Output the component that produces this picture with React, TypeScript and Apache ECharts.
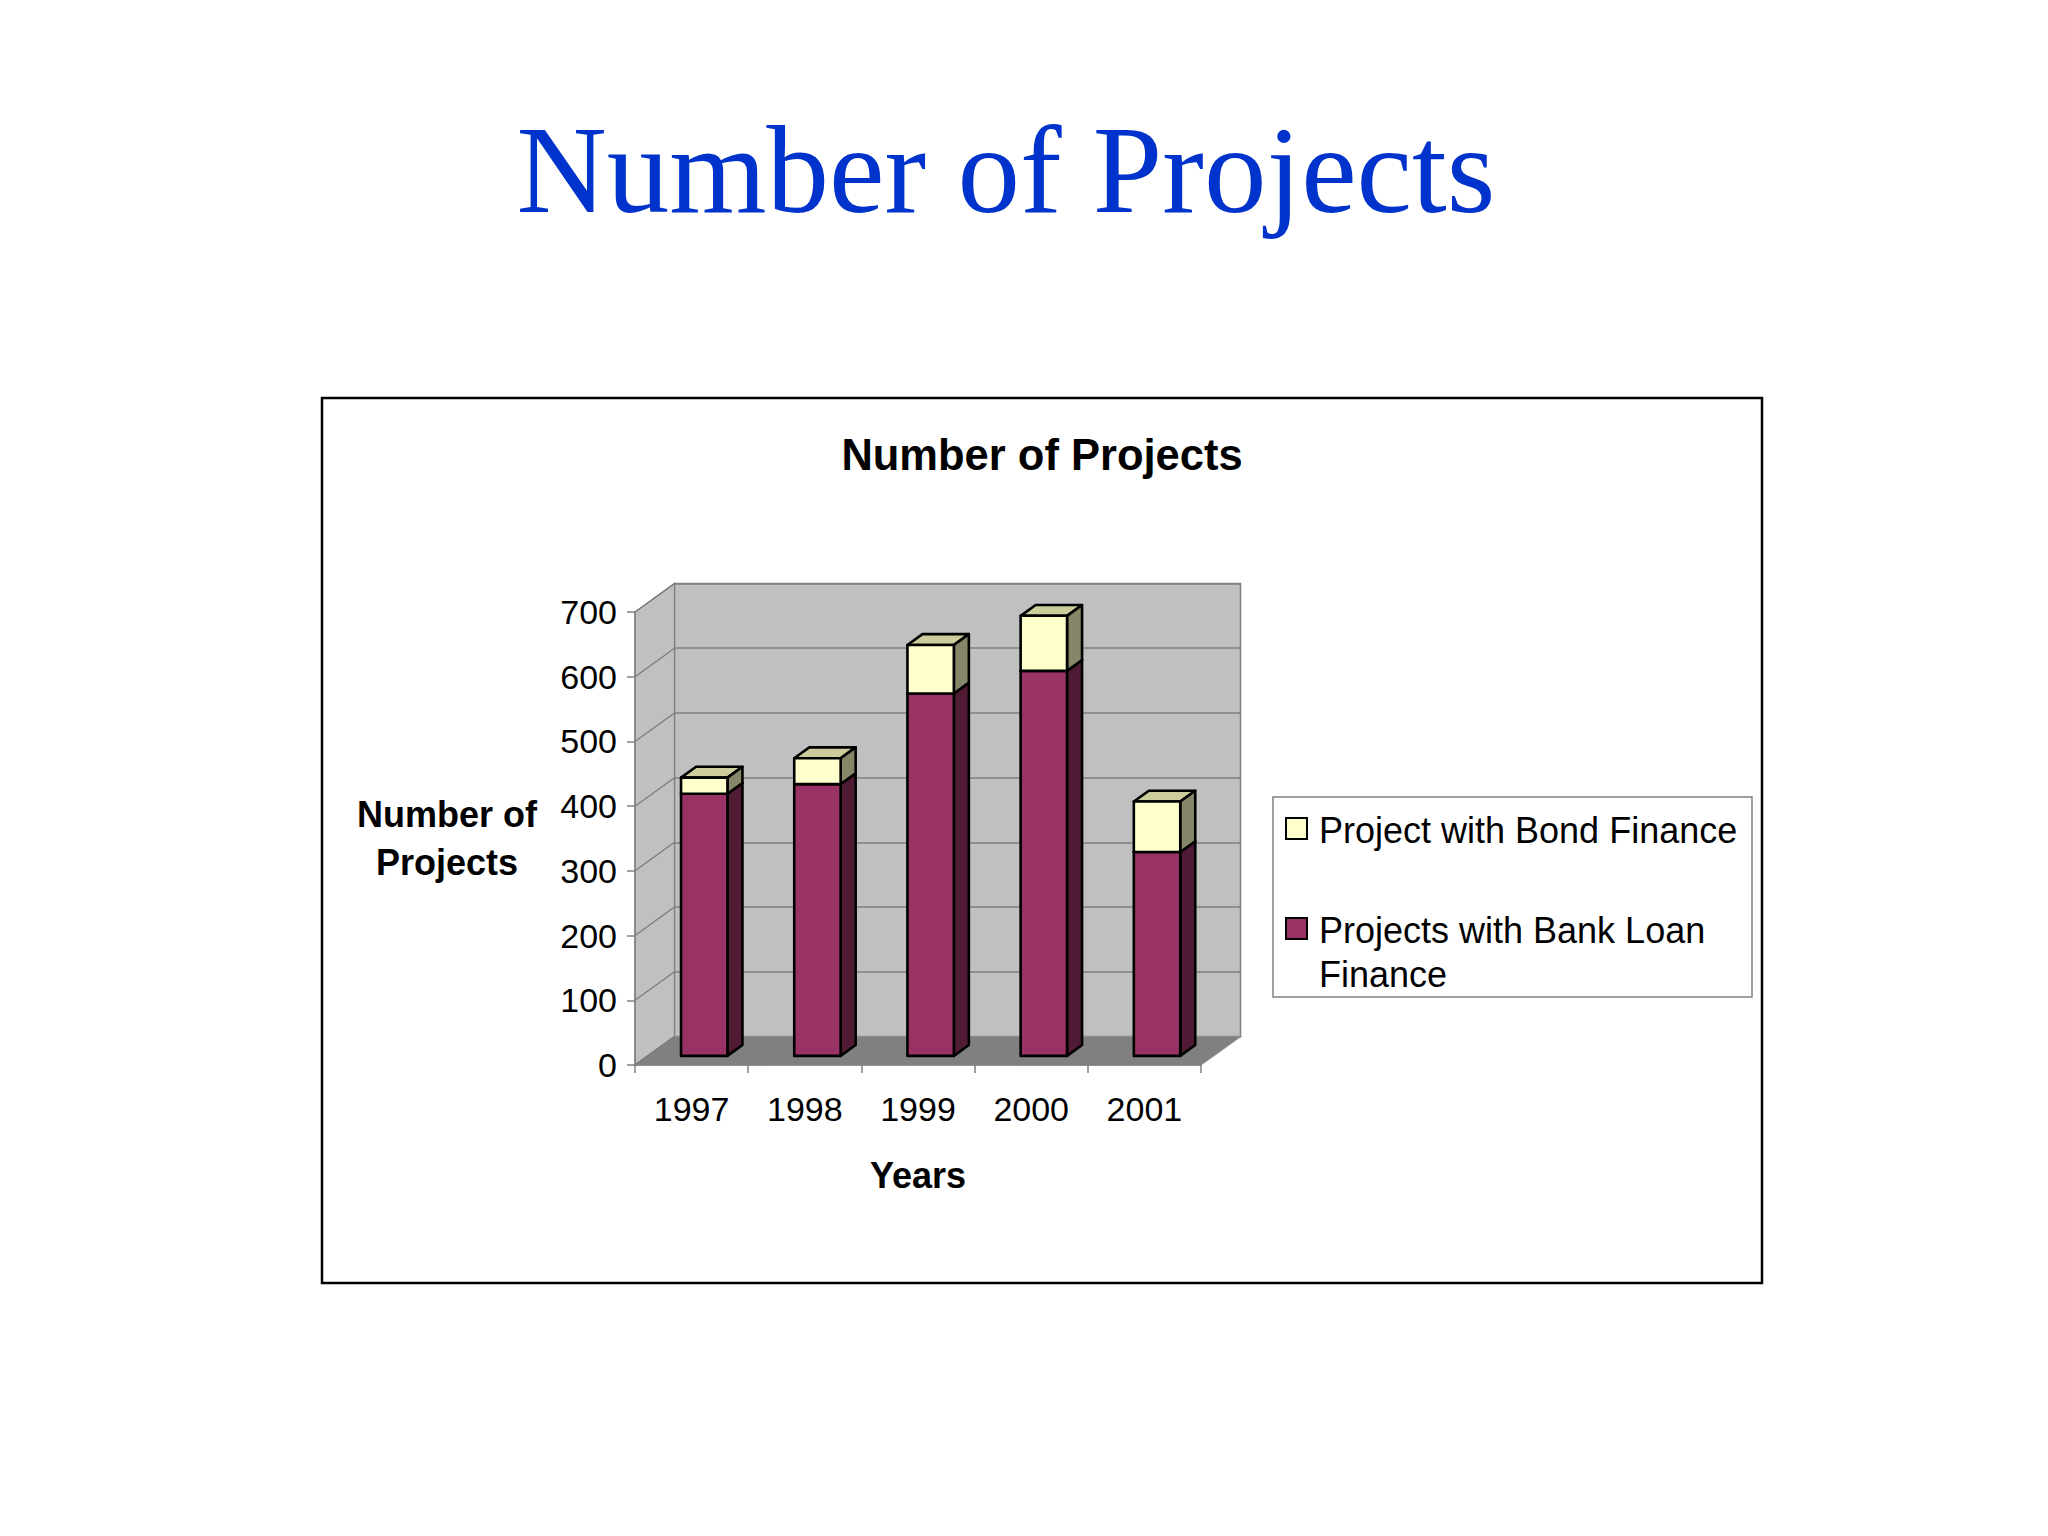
import React, { useEffect, useRef } from 'react';
import * as echarts from 'echarts';

// ---- data ----
const years = ['1997', '1998', '1999', '2000', '2001'];
const bankLoan = [405, 420, 560, 595, 315];
const bondFinance = [25, 40, 75, 85, 78];
const yMin = 0;
const yMax = 700;
const yInterval = 100;
const seriesNames = ['Project with Bond Finance', 'Projects with Bank Loan Finance'];

// ---- style constants ----
const SANS = 'Liberation Sans, Arial, sans-serif';
const SERIF = 'Liberation Serif, Times New Roman, serif';
const DX = 39.5; // depth offset of the back wall
const DY = -28.5;
const BAR_FRONT = 0.32; // bar front face depth fraction
const BAR_BACK = 0.7; // bar back face depth fraction
const BAR_FRAC = 0.41; // bar width relative to category

const GRID = { left: 635, top: 612, width: 566, height: 453 };

function barRenderer(front: string, side: string, top: string) {
  return (params: any, api: any) => {
    const x = api.value(0);
    const v0 = api.value(1);
    const v1 = api.value(2);
    const pb = api.coord([x, v0]);
    const pt = api.coord([x, v1]);
    const bw = api.size([1, 0])[0] * BAR_FRAC;
    const fx = DX * BAR_FRONT;
    const fy = DY * BAR_FRONT;
    const bdx = DX * (BAR_BACK - BAR_FRONT);
    const bdy = DY * (BAR_BACK - BAR_FRONT);
    const xl = pb[0] - bw / 2 + fx;
    const xr = xl + bw;
    const yb = pb[1] + fy;
    const yt = pt[1] + fy;
    const edge = { stroke: '#000', lineWidth: 2.6, lineJoin: 'round' };
    return {
      type: 'group',
      children: [
        {
          type: 'polygon',
          shape: { points: [[xl, yt], [xr, yt], [xr + bdx, yt + bdy], [xl + bdx, yt + bdy]] },
          style: { fill: top, ...edge },
        },
        {
          type: 'polygon',
          shape: { points: [[xr, yb], [xr + bdx, yb + bdy], [xr + bdx, yt + bdy], [xr, yt]] },
          style: { fill: side, ...edge },
        },
        {
          type: 'rect',
          shape: { x: xl, y: yt, width: bw, height: yb - yt },
          style: { fill: front, ...edge },
        },
      ],
    };
  };
}

function wallRenderer(params: any, api: any) {
  const cs = params.coordSys;
  const x0 = cs.x;
  const x1 = cs.x + cs.width;
  const yTop = cs.y;
  const yBot = cs.y + cs.height;
  const children: any[] = [
    {
      type: 'polygon',
      shape: { points: [[x0, yBot], [x0, yTop], [x0 + DX, yTop + DY], [x0 + DX, yBot + DY]] },
      style: { fill: '#c0c0c0', stroke: '#808080', lineWidth: 1.2 },
    },
    {
      type: 'polygon',
      shape: { points: [[x0, yBot], [x1, yBot], [x1 + DX, yBot + DY], [x0 + DX, yBot + DY]] },
      style: { fill: '#808080', stroke: '#8c8c8c', lineWidth: 1.2 },
    },
  ];
  for (let v = yMin; v <= yMax; v += yInterval) {
    const p = api.coord([0, v]);
    children.push({
      type: 'line',
      shape: { x1: x0, y1: p[1], x2: x0 + DX, y2: p[1] + DY },
      style: { stroke: '#7a7a7a', lineWidth: 1.2 },
    });
  }
  return { type: 'group', children };
}

function buildOption(): any {
  const bankData = years.map((_, i) => [i, 0, bankLoan[i]]);
  const bondData = years.map((_, i) => [i, bankLoan[i], bankLoan[i] + bondFinance[i]]);
  return {
    animation: false,
    backgroundColor: '#ffffff',
    textStyle: { fontFamily: SANS },
    grid: [
      { ...GRID, containLabel: false, outerBoundsMode: 'none' },
      {
        left: GRID.left + DX,
        top: GRID.top + DY,
        width: GRID.width,
        height: GRID.height,
        show: true,
        backgroundColor: '#c0c0c0',
        borderColor: '#808080',
        borderWidth: 1.5,
        containLabel: false,
        outerBoundsMode: 'none',
        z: 0,
      },
    ],
    xAxis: [
      {
        type: 'category',
        gridIndex: 0,
        data: years,
        z: 10,
        axisLine: { show: true, lineStyle: { color: '#808080', width: 1.5 } },
        axisTick: { show: true, length: 8, alignWithLabel: false, lineStyle: { color: '#808080', width: 1.5 } },
        axisLabel: { fontSize: 34, color: '#000', margin: 27, fontFamily: SANS },
        name: 'Years',
        nameLocation: 'middle',
        nameGap: 110,
        nameTextStyle: {
          fontSize: 36,
          fontWeight: 'bold',
          color: '#000',
          fontFamily: SANS,
          align: 'center',
          verticalAlign: 'middle',
        },
      },
      {
        type: 'category',
        gridIndex: 1,
        data: years,
        show: false,
      },
    ],
    yAxis: [
      {
        type: 'value',
        gridIndex: 0,
        min: yMin,
        max: yMax,
        interval: yInterval,
        z: 10,
        axisLine: { show: true, lineStyle: { color: '#808080', width: 1.5 } },
        axisTick: { show: true, length: 8, lineStyle: { color: '#808080', width: 1.5 } },
        axisLabel: { fontSize: 34, color: '#000', margin: 18, fontFamily: SANS },
        splitLine: { show: false },
        name: 'Number of\nProjects',
        nameLocation: 'middle',
        nameRotate: 0,
        nameGap: 188,
        nameTextStyle: {
          fontSize: 36,
          fontWeight: 'bold',
          color: '#000',
          fontFamily: SANS,
          align: 'center',
          verticalAlign: 'middle',
          lineHeight: 48,
        },
      },
      {
        type: 'value',
        gridIndex: 1,
        min: yMin,
        max: yMax,
        interval: yInterval,
        axisLine: { show: false },
        axisTick: { show: false },
        axisLabel: { show: false },
        splitLine: { show: true, lineStyle: { color: '#808080', width: 1.5 } },
      },
    ],
    series: [
      {
        type: 'custom',
        name: 'walls',
        xAxisIndex: 0,
        yAxisIndex: 0,
        z: 1,
        silent: true,
        data: [[0, 0]],
        renderItem: wallRenderer,
      },
      {
        type: 'custom',
        name: seriesNames[1],
        xAxisIndex: 0,
        yAxisIndex: 0,
        z: 3,
        encode: { x: 0, y: [1, 2] },
        data: bankData,
        renderItem: barRenderer('#993366', '#4f1b35', '#7a2952'),
      },
      {
        type: 'custom',
        name: seriesNames[0],
        xAxisIndex: 0,
        yAxisIndex: 0,
        z: 4,
        encode: { x: 0, y: [1, 2] },
        data: bondData,
        renderItem: barRenderer('#ffffcc', '#868668', '#cccc9c'),
      },
    ],
    graphic: [
      {
        type: 'text',
        x: 1006,
        y: 170,
        style: {
          text: 'Number of Projects',
          fontSize: 125,
          fontFamily: SERIF,
          fill: '#0033cc',
          align: 'center',
          verticalAlign: 'middle',
        },
      },
      {
        type: 'rect',
        shape: { x: 322, y: 398, width: 1440, height: 885 },
        style: { fill: 'none', stroke: '#000', lineWidth: 2.5 },
        z: -1,
      },
      {
        type: 'text',
        x: 1042,
        y: 455,
        style: {
          text: 'Number of Projects',
          fontSize: 43.5,
          fontWeight: 'bold',
          fontFamily: SANS,
          fill: '#000',
          align: 'center',
          verticalAlign: 'middle',
        },
      },
      {
        type: 'group',
        children: [
          {
            type: 'rect',
            shape: { x: 1273, y: 797, width: 479, height: 200 },
            style: { fill: '#fff', stroke: '#808080', lineWidth: 1.5 },
          },
          {
            type: 'rect',
            shape: { x: 1286, y: 818, width: 21, height: 21 },
            style: { fill: '#ffffcc', stroke: '#000', lineWidth: 2 },
          },
          {
            type: 'text',
            x: 1319,
            y: 830,
            style: {
              text: seriesNames[0],
              fontSize: 36,
              fontFamily: SANS,
              fill: '#000',
              align: 'left',
              verticalAlign: 'middle',
            },
          },
          {
            type: 'rect',
            shape: { x: 1286, y: 918, width: 21, height: 21 },
            style: { fill: '#993366', stroke: '#000', lineWidth: 2 },
          },
          {
            type: 'text',
            x: 1319,
            y: 908,
            style: {
              text: 'Projects with Bank Loan\nFinance',
              fontSize: 36,
              lineHeight: 44,
              fontFamily: SANS,
              fill: '#000',
              align: 'left',
              verticalAlign: 'top',
            },
          },
        ],
      },
    ],
  };
}

export default function App() {
  const ref = useRef<HTMLDivElement>(null);
  useEffect(() => {
    if (!ref.current) return;
    const chart = echarts.init(ref.current, null, { renderer: 'svg' });
    chart.setOption(buildOption());
    return () => chart.dispose();
  }, []);
  return (
    <div
      ref={ref}
      style={{ position: 'absolute', left: 0, top: 0, width: 2048, height: 1536, background: '#fff' }}
    />
  );
}
